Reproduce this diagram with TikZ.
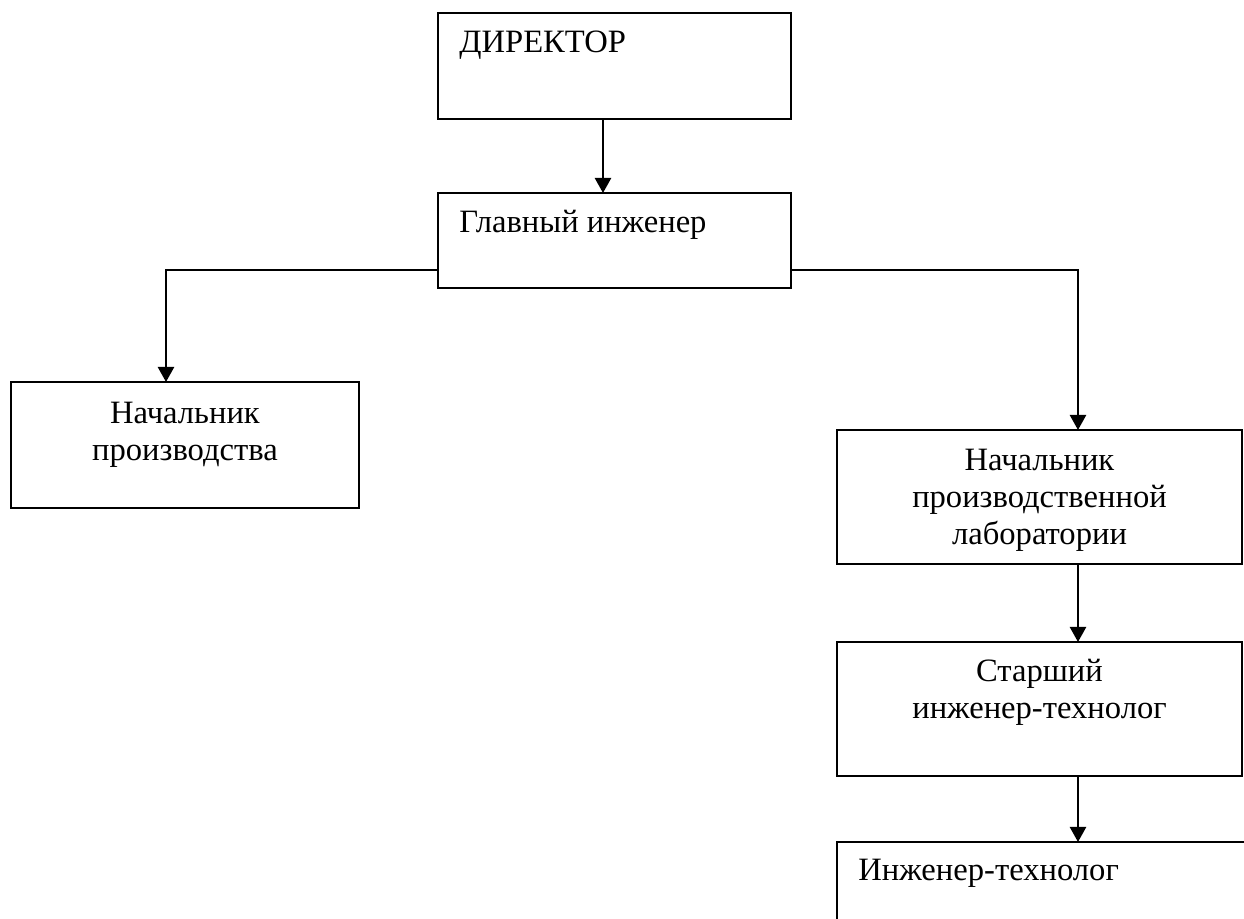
\documentclass[tikz,border=0pt]{standalone}
\usepackage{fontspec}
\setmainfont{Liberation Serif}
\usetikzlibrary{arrows.meta,calc}
\begin{document}
\begin{tikzpicture}[x=0.5pt,y=-0.5pt,
  box/.style={draw, line width=0.7pt, inner sep=0pt, outer sep=0pt, anchor=north west},
  txt/.style={inner sep=0pt, font=\fontsize{16.3}{18.5}\selectfont},
  conn/.style={line width=1.2pt, -{Triangle[width=8pt,length=7.5pt]}}]
\useasboundingbox (0,0) rectangle (1244,919);
\clip (0,0) rectangle (1244,919);
\fill[white] (0,0) rectangle (1244,919);
% boxes
\node[box, minimum width=176.5pt, minimum height=53pt] (dir) at (438,13) {};
\node[box, minimum width=176.5pt, minimum height=47.5pt] (gl) at (438,193) {};
\node[box, minimum width=174pt, minimum height=63pt] (np) at (11,382) {};
\node[box, minimum width=202.5pt, minimum height=67pt] (lab) at (837,430) {};
\node[box, minimum width=202.5pt, minimum height=67pt] (st) at (837,642) {};
\node[box, minimum width=250pt, minimum height=100pt] (eng) at (837,842) {};
% texts
\node[txt, anchor=base west] (tdir) at ($(dir.north west)+(21,40)$) {ДИРЕКТОР};
\node[txt, anchor=base west] (tgl) at ($(gl.north west)+(21,40)$) {Главный инженер};
\node[txt, anchor=north, align=center] (tnp) at ($(np.north)+(0,20)$) {Начальник\\производства};
\node[txt, anchor=north, align=center] (tlab) at ($(lab.north)+(0,19)$) {Начальник\\производственной\\лаборатории};
\node[txt, anchor=north, align=center] (tst) at ($(st.north)+(0,17)$) {Старший\\инженер-технолог};
\node[txt, anchor=base west] (teng) at ($(eng.north west)+(21,38)$) {Инженер-технолог};
% connectors
\coordinate (ax) at (603,0);
\coordinate (bx) at (1078,0);
\coordinate (cx) at (166,0);
\coordinate (jl) at ($(gl.south west)+(0,-18)$);
\coordinate (jr) at ($(gl.south east)+(0,-18)$);
\draw[conn] (dir.south -| ax) -- (gl.north -| ax);
\draw[conn] (jl) -| (np.north -| cx);
\draw[conn] (jr) -| (lab.north -| bx);
\draw[conn] (lab.south -| bx) -- (st.north -| bx);
\draw[conn] (st.south -| bx) -- (eng.north -| bx);
\end{tikzpicture}
\end{document}
